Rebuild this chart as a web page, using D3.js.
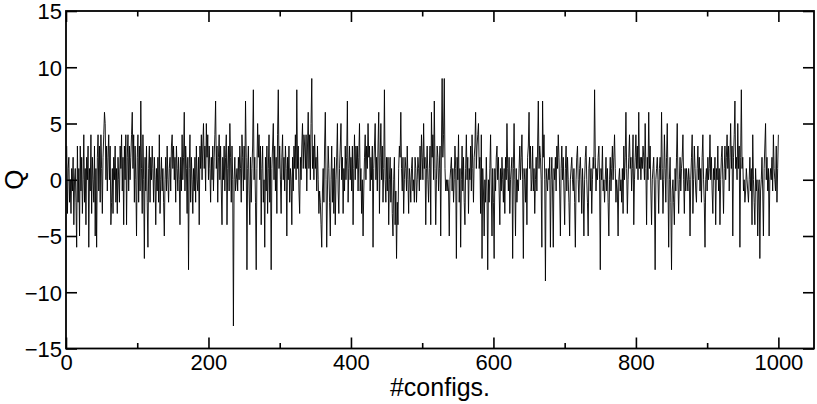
<!DOCTYPE html>
<html>
<head>
<meta charset="utf-8">
<script src="https://cdn.jsdelivr.net/npm/d3@7"></script>
<style>
  html, body { margin: 0; padding: 0; background: #fff; }
  svg { display: block; }
  text { font-family: "Liberation Sans", Arial, Helvetica, sans-serif; fill: #000; }
</style>
</head>
<body>
<svg id="chart" width="817" height="404"></svg>
<script>
// ---- data: topological charge Q per configuration ----
const q000 = [3,-3,1,2,-2,0,-3,1,-1,2, -4,0,1,-2,-6,3,-2,1,-5,3, -1,2,-3,0,4,-2,1,-4,2,0, 3,-6,1,-1,4,-3,2,0,-2,3,
  -5,1,-6,2,4,-1,3,-2,4,1, -3,2,4,6,5,0,3,-1,2,4, 0,3,-4,-2,1,-3,2,0,3,-2, 1,-3,2,0,-2,3,1,4,-1,2,
  -4,3,0,4,-4,2,4,-1,3,0, 2,4,6,1,4,-2,3,0,-5,2];
const q100 = [4,-2,3,-1,7,1,-3,4,0,-7, 2,-1,3,-2,-6,1,3,-2,2,0, 3,1,-2,2,0,-4,1,-1,2,-2, 4,-3,0,2,-1,1,-2,-5,0,2,
  -1,3,0,-2,1,2,-1,3,4,1, 3,0,2,-2,3,1,-1,2,0,-4, 2,-1,4,0,2,6,-1,3,1,-3, 2,-8,1,4,-2,2,0,-3,1,-1,
  2,-2,3,0,-1,2,-4,3,1,4, 0,3,5,1,3,-1,5,2,4,0];
const q200 = [3,1,-2,2,0,3,-1,2,4,7, 1,3,-2,2,4,0,3,-1,-4,2, 0,3,-1,2,4,-4,1,3,-1,5, 2,-2,3,0,-13,0,2,-1,0,1,
  -1,2,0,3,1,-2,4,2,-1,3, 0,7,2,-8,1,3,-1,-4,2,-2, 1,3,8,0,2,-2,-8,1,5,2, 4,0,3,-4,1,3,-2,0,-6,2,
  -1,3,-3,1,4,-2,2,-8,1,3, 5,0,3,-1,2,-3,4,8,1,3];
const q300 = [0,-3,2,4,0,2,-1,3,1,-5, 2,0,3,-2,1,0,-4,2,-1,3, 1,4,0,8,1,3,-1,-3,2,0, 3,5,1,4,3,1,4,-1,3,6,
  1,4,0,5,9,1,3,0,4,1, 2,-1,3,0,-3,-1,-2,-4,-6,-1, 1,-2,3,6,0,-6,-1,3,1,-2, -5,0,3,-2,1,-3,2,-4,0,2,
  5,-1,-3,1,3,5,0,2,-3,1, -1,3,0,2,7,-2,1,3,0,2];
const q400 = [-1,3,-4,1,4,0,3,1,3,-1, 2,5,-1,1,-3,0,-5,-1,2,4, 0,3,1,5,2,3,-1,2,0,3, -6,1,3,5,0,2,-1,3,6,-3,
  2,5,0,3,-2,1,8,0,-2,2, -1,2,-4,0,2,-2,1,-3,-5,0, 2,-4,-1,-7,-2,-4,1,3,2,6, 1,-1,2,-3,0,2,1,-1,3,0,
  -3,1,0,-2,1,2,-1,0,-2,2, 1,-2,0,2,1,-1,3,0,4,2];
const q500 = [0,5,1,2,-4,1,3,0,-2,1, 3,-4,6,2,4,0,7,1,-4,0, 3,2,-1,1,3,-5,3,9,2,4, 9,1,-1,0,-1,0,-1,-5,0,1,
  2,-1,1,-2,0,3,1,-7,2,0, 4,-2,1,-6,0,3,-1,2,-2,-4, 1,4,0,2,-3,1,0,3,-1,4, 1,-2,2,3,6,1,3,4,5,1,
  2,-3,4,-7,1,-1,-5,0,-2,2, -1,-8,0,-2,1,4,-1,-5,1,-2];
const q600 = [-7,1,-1,2,3,0,2,-1,-4,1, -1,2,0,-2,1,-3,2,0,5,1, -1,2,-3,0,1,2,-7,1,5,0, -5,1,-2,0,-1,1,3,0,2,4,
  0,-7,1,0,-2,1,-4,2,3,6, 1,3,-1,0,3,-1,1,-3,0,2, -1,3,7,1,3,2,0,-6,7,2, 4,0,-9,1,0,-1,1,0,2,-6,
  0,2,-1,-6,1,0,2,-1,3,1, 4,2,-1,-5,1,3,0,2,-1,-4];
const q700 = [1,3,-1,2,0,-2,-5,0,1,2, 0,-1,1,-2,-6,0,2,3,0,-2, 1,2,0,-3,1,-1,-5,0,2,3, 0,-2,-5,1,2,-1,1,-3,0,2,
  1,8,2,-1,1,0,2,3,0,-8, 1,0,3,-1,0,-2,0,2,-1,1, -2,-5,0,2,-1,1,3,0,2,4, 1,-2,0,-1,-5,0,1,-1,0,-2,
  1,-3,3,0,2,6,1,-3,0,2, 4,1,2,-1,1,4,-4,0,2,4];
const q800 = [1,3,0,6,1,2,0,2,1,3, 2,0,5,1,-4,2,0,6,1,3, -1,-4,0,1,2,-1,-8,0,1,2, 0,-3,1,2,0,6,1,-3,0,4,
  1,-2,2,5,0,-6,0,2,-2,-8, -1,0,-2,-4,1,-1,2,5,0,-3, 0,2,-1,1,2,4,0,-3,1,-1, 1,0,-1,1,0,-5,0,2,4,-3,
  0,3,1,-1,-2,1,3,0,2,-1, 1,-2,2,4,0,-2,-6,0,1,-1];
const q900 = [2,0,1,4,0,2,-1,-3,1,0, 2,-4,1,0,3,-1,1,-4,0,2, 3,0,-3,1,3,0,2,4,1,3, -1,2,5,1,3,-5,2,4,7,1,
  2,0,5,1,3,-6,2,8,1,2, -1,0,-2,-1,1,0,-1,-2,0,2, -1,1,-4,4,0,-2,-4,1,-1,0, -5,-1,0,-7,-1,0,2,-1,-5,1,
  3,5,0,2,-1,1,-5,0,1,0, 2,-1,4,1,0,-1,3,-2,1,4];
const charge = [].concat(q000, q100, q200, q300, q400, q500, q600, q700, q800, q900);

const xTicks = [0, 200, 400, 600, 800, 1000];
const xMinorTicks = [100, 300, 500, 700, 900];
const yTicks = [-15, -10, -5, 0, 5, 10, 15];
const xLabel = "#configs.";
const yLabel = "Q";

// ---- drawing ----
const L = 66, R = 814, T = 11, B = 348.5;
const svg = d3.select("#chart");

const x = d3.scaleLinear().domain([0, 1050]).range([L, R]);
const y = d3.scaleLinear().domain([-15, 15]).range([B, T]);

// data line
const line = d3.line().x((d, i) => x(i + 1)).y(d => y(d));
svg.append("path")
  .datum(charge)
  .attr("d", line)
  .attr("fill", "none")
  .attr("stroke", "#000")
  .attr("stroke-width", 0.9)
  .attr("stroke-linejoin", "miter");

function styleAxis(g) {
  g.select(".domain").remove();
  g.selectAll(".tick line").attr("stroke", "#000").attr("stroke-width", 1.6);
}

// bottom axis
svg.append("g").attr("transform", `translate(0,${B})`)
  .call(d3.axisBottom(x).tickValues(xTicks).tickSize(-11).tickFormat(d3.format("d")))
  .call(styleAxis)
  .call(g => g.selectAll("text").attr("font-size", 22).attr("dy", "0.71em").attr("y", 6));
svg.append("g").attr("transform", `translate(0,${B})`)
  .call(d3.axisBottom(x).tickValues(xMinorTicks).tickSize(-5.5).tickFormat(""))
  .call(styleAxis);
// top axis
svg.append("g").attr("transform", `translate(0,${T})`)
  .call(d3.axisTop(x).tickValues(xTicks).tickSize(-11).tickFormat(""))
  .call(styleAxis);
svg.append("g").attr("transform", `translate(0,${T})`)
  .call(d3.axisTop(x).tickValues(xMinorTicks).tickSize(-5.5).tickFormat(""))
  .call(styleAxis);
// left axis
svg.append("g").attr("transform", `translate(${L},0)`)
  .call(d3.axisLeft(y).tickValues(yTicks).tickSize(-11).tickFormat(d3.format("d")))
  .call(styleAxis)
  .call(g => g.selectAll("text").attr("font-size", 22).attr("x", -4).attr("dy", "0.36em"));
// right axis
svg.append("g").attr("transform", `translate(${R},0)`)
  .call(d3.axisRight(y).tickValues(yTicks).tickSize(-11).tickFormat(""))
  .call(styleAxis);

// frame
svg.append("rect")
  .attr("x", L).attr("y", T).attr("width", R - L).attr("height", B - T)
  .attr("fill", "none").attr("stroke", "#000").attr("stroke-width", 1.8);

// axis titles
svg.append("text")
  .attr("x", (L + R) / 2).attr("y", 396)
  .attr("text-anchor", "middle").attr("font-size", 25)
  .text(xLabel);
svg.append("text")
  .attr("transform", `translate(23,${(T + B) / 2}) rotate(-90)`)
  .attr("text-anchor", "middle").attr("font-size", 26)
  .text(yLabel);
</script>
</body>
</html>
